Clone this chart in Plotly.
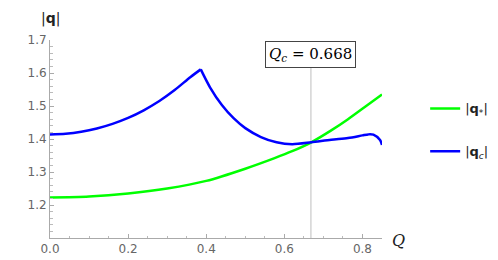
import plotly.graph_objects as go

# |q_*| (green)
q_star_Q = [0, 0.1, 0.2, 0.3, 0.4, 0.5, 0.575, 0.62, 0.669, 0.72, 0.763, 0.806, 0.85]
q_star_v = [1.223, 1.226, 1.235, 1.25, 1.273, 1.31, 1.342, 1.363, 1.39, 1.426, 1.46, 1.497, 1.535]

# |q_c| (blue), rising branch up to the cusp and falling branch after it
qc_rise_Q = [0, 0.04, 0.08, 0.12, 0.16, 0.2, 0.24, 0.28, 0.32, 0.36, 0.386]
qc_rise_v = [1.414, 1.416, 1.422, 1.432, 1.446, 1.464, 1.487, 1.515, 1.549, 1.588, 1.611]
qc_fall_Q = [0.386, 0.41, 0.44, 0.47, 0.5, 0.54, 0.58, 0.62, 0.669, 0.72, 0.763, 0.8, 0.815, 0.828, 0.845, 0.85]
qc_fall_v = [1.611, 1.556, 1.503, 1.463, 1.433, 1.406, 1.39, 1.384, 1.39, 1.398, 1.403, 1.411, 1.414, 1.413, 1.397, 1.382]

Qc = 0.668

x_ticks = [0.0, 0.2, 0.4, 0.6, 0.8]
x_ticktext = ["0.0", "0.2", "0.4", "0.6", "0.8"]
y_ticks = [1.2, 1.3, 1.4, 1.5, 1.6, 1.7]
y_ticktext = ["1.2", "1.3", "1.4", "1.5", "1.6", "1.7"]
x_minor = [i * 0.05 for i in range(18)]
y_minor = [1.1 + i * 0.02 for i in range(31)]

GREEN = "rgb(0,255,0)"
BLUE = "rgb(0,0,255)"

fig = go.Figure()
fig.add_trace(go.Scatter(x=q_star_Q, y=q_star_v, mode="lines",
                         line=dict(color=GREEN, width=2.5, shape="spline", smoothing=0.8),
                         name="|<b>q</b><sub>*</sub>|", legendgroup="a"))
fig.add_trace(go.Scatter(x=qc_rise_Q, y=qc_rise_v, mode="lines",
                         line=dict(color=BLUE, width=2.5, shape="spline", smoothing=0.8),
                         name="|<b>q</b><sub><i>c</i></sub>|", legendgroup="b"))
fig.add_trace(go.Scatter(x=qc_fall_Q, y=qc_fall_v, mode="lines",
                         line=dict(color=BLUE, width=2.5, shape="spline", smoothing=0.8),
                         name="|<b>q</b><sub><i>c</i></sub>|", legendgroup="b", showlegend=False))

fig.add_shape(type="line", x0=Qc, x1=Qc, y0=1.1, y1=1.64, xref="x", yref="y",
              line=dict(color="#d4d4d4", width=1.5), layer="below")

fig.add_annotation(x=Qc, y=1.655, xref="x", yref="y",
                   text="<i>Q</i><sub><i>c</i></sub> = 0.668", showarrow=False,
                   font=dict(family="DejaVu Serif", size=15, color="black"),
                   bgcolor="white", bordercolor="#444", borderwidth=1, borderpad=3,
                   xanchor="center", yanchor="middle")

fig.add_annotation(x=0, y=1.7, xref="x", yref="y", yshift=22,
                   text="|<b>q</b>|", showarrow=False,
                   font=dict(family="DejaVu Sans", size=14, color="#222"),
                   xanchor="center", yanchor="middle")
fig.add_annotation(x=0.85, y=1.1, xref="x", yref="y", xshift=16, yshift=-2,
                   text="<i>Q</i>", showarrow=False,
                   font=dict(family="DejaVu Serif", size=16, color="#222"),
                   xanchor="center", yanchor="middle")

axis_common = dict(showline=True, linecolor="#aaaaaa", linewidth=1, showgrid=False,
                   zeroline=False, ticks="inside", ticklen=4, tickcolor="#aaaaaa",
                   tickfont=dict(family="DejaVu Sans", size=12, color="#666666"))

fig.update_xaxes(range=[0, 0.85], tickmode="array", tickvals=x_ticks, ticktext=x_ticktext,
                 minor=dict(tickmode="array", tickvals=x_minor, ticks="inside", ticklen=2.5,
                            tickcolor="#bbbbbb"),
                 **axis_common)
fig.update_yaxes(range=[1.1, 1.7], tickmode="array", tickvals=y_ticks, ticktext=y_ticktext,
                 minor=dict(tickmode="array", tickvals=y_minor, ticks="inside", ticklen=2.5,
                            tickcolor="#bbbbbb"),
                 **axis_common)

fig.update_layout(
    width=498, height=260,
    margin=dict(l=42, r=124, t=32, b=22),
    paper_bgcolor="white", plot_bgcolor="white",
    legend=dict(x=1.13, y=0.73, xanchor="left", yanchor="top", traceorder="grouped",
                tracegroupgap=23, font=dict(family="DejaVu Sans", size=13, color="#222"),
                bgcolor="rgba(0,0,0,0)", borderwidth=0),
)

fig.write_html("out.html")
